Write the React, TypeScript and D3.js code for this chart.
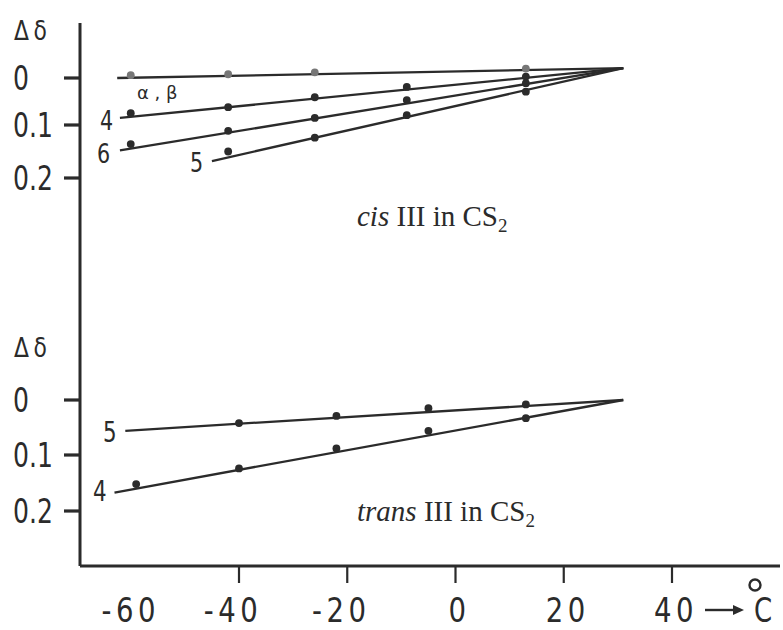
import React from "react";
import * as d3 from "d3";

// temperature axis (°C)
const tempTicks = [-40, -20, 0, 20, 40];
const tempLabels = ["-60", "-40", "-20", "0", "20", "40"];
const tempLabelAt = [-60, -40, -20, 0, 20, 40];

// delta-delta axis
const shiftTicks = [0, 0.1, 0.2];
const shiftLabels = ["0", "0.1", "0.2"];

// cis III in CS2 -- measured points
const cisTemps = [-60, -42, -26, -9, 13];
const cisAB = [-0.006, -0.008, -0.012, null, -0.02];
const cis4 = [0.075, 0.062, 0.041, 0.019, -0.003];
const cis6 = [0.136, 0.111, 0.085, 0.047, 0.011];
const cis5 = [null, 0.15, 0.124, 0.079, 0.029];
// fitted lines: start temp / start value, all meet at one point
const cisFitNames = ["α , β", "4", "6", "5"];
const cisFitFromT = [-62.5, -62, -62, -45];
const cisFitFromV = [0.0, 0.085, 0.148, 0.168];
const cisMeetT = 31;
const cisMeetV = -0.021;

// trans III in CS2
const transTemps = [-59, -40, -22, -5, 13];
const trans5 = [null, 0.042, 0.029, 0.015, 0.008];
const trans4 = [0.152, 0.124, 0.088, 0.056, 0.033];
const transFitNames = ["5", "4"];
const transFitFromT = [-61, -63];
const transFitFromV = [0.056, 0.167];
const transMeetT = 31;
const transMeetV = 0.0;

const ink = "#2b2b2b";
const narrow = "'DejaVu Sans Condensed', 'DejaVu Sans', sans-serif";
const serif = "'Liberation Serif', 'DejaVu Serif', serif";

const x = d3.scaleLinear().domain([-40, 40]).range([239, 672]);
const yTop = d3.scaleLinear().domain([0, 0.1, 0.2]).range([78, 125, 178]);
const yBot = d3.scaleLinear().domain([0, 0.1, 0.2]).range([400, 455, 511]);

const line = d3.line<[number, number]>();

function Dots({ temps, vals, y, fill = ink }) {
  return (
    <g>
      {temps.map((t, i) =>
        vals[i] == null ? null : (
          <circle key={i} cx={x(t)} cy={y(vals[i])} r={3.9} fill={fill} />
        )
      )}
    </g>
  );
}

function Fit({ t0, v0, t1, v1, y }) {
  const d = line([
    [x(t0), y(v0)],
    [x(t1), y(v1)],
  ]);
  return <path d={d || ""} fill="none" stroke={ink} strokeWidth={2.3} />;
}

// narrow digits like the original stencil lettering
function Narrow({ x0, y0, size, children, sx = 0.8, anchor = "start", spacing = 0 }) {
  return (
    <text
      transform={`translate(${x0},${y0}) scale(${sx},1)`}
      fontFamily={narrow}
      fontSize={size}
      textAnchor={anchor}
      letterSpacing={spacing}
      fill={ink}
    >
      {children}
    </text>
  );
}

export default function App() {
  const axisY = 566;
  const panels = [
    { scale: yTop, labelY: 40 },
    { scale: yBot, labelY: 357 },
  ];
  // tick marks for the delta-delta axis
  const tickRects = [];
  panels.forEach((p, k) =>
    shiftTicks.forEach((v) => tickRects.push({ k, v, y: p.scale(v) }))
  );
  return (
    <svg
      width={783}
      height={630}
      style={{ position: "absolute", left: 0, top: 0, background: "#fff" }}
    >
      {/* frame axes */}
      <line x1={80} x2={80} y1={23} y2={axisY} stroke={ink} strokeWidth={3} />
      <line x1={80} x2={780} y1={axisY} y2={axisY} stroke={ink} strokeWidth={3} />

      {/* delta-delta ticks, both panels */}
      {tickRects.map((r) => (
        <rect key={r.k + "-" + r.v} x={64} y={r.y - 1.6} width={16} height={3.2} fill={ink} />
      ))}
      {panels.map((p, k) => (
        <g key={"lab" + k}>
          <Narrow x0={14} y0={p.labelY} size={27} sx={0.9} spacing={5}>
            Δδ
          </Narrow>
          {shiftTicks.map((v, i) => (
            <Narrow key={i} x0={13} y0={p.scale(v) + 12} size={34} sx={0.82}>
              {shiftLabels[i]}
            </Narrow>
          ))}
        </g>
      ))}

      {/* temperature ticks */}
      {tempTicks.map((t) => (
        <line key={t} x1={x(t)} x2={x(t)} y1={axisY} y2={583} stroke={ink} strokeWidth={2.2} />
      ))}
      {tempLabels.map((s, i) => (
        <Narrow
          key={s}
          x0={x(tempLabelAt[i]) + (tempLabelAt[i] < 0 ? (tempLabelAt[i] === -60 ? 0 : -6) : 4)}
          y0={622}
          size={34}
          sx={0.9}
          anchor="middle"
          spacing={5}
        >
          {s}
        </Narrow>
      ))}
      {/* arrow and unit */}
      <line x1={705} x2={736} y1={610} y2={610} stroke={ink} strokeWidth={2.4} />
      <path d="M744,610 L733,605 L733,615 Z" fill={ink} />
      <circle cx={755} cy={585} r={5.5} fill="none" stroke={ink} strokeWidth={2.4} />
      <Narrow x0={754} y0={622} size={34} sx={0.85}>
        C
      </Narrow>

      {/* cis panel */}
      {cisFitFromT.map((t, i) => (
        <Fit key={i} t0={t} v0={cisFitFromV[i]} t1={cisMeetT} v1={cisMeetV} y={yTop} />
      ))}
      <Dots temps={cisTemps} vals={cisAB} y={yTop} fill="#777" />
      <Dots temps={cisTemps} vals={cis4} y={yTop} />
      <Dots temps={cisTemps} vals={cis6} y={yTop} />
      <Dots temps={cisTemps} vals={cis5} y={yTop} />
      <text x={137} y={99} fontFamily="'DejaVu Sans', sans-serif" fontSize={18} fill={ink}>
        {cisFitNames[0]}
      </text>
      <Narrow x0={100} y0={130} size={27} sx={0.85}>
        {cisFitNames[1]}
      </Narrow>
      <Narrow x0={97} y0={163} size={27} sx={0.85}>
        {cisFitNames[2]}
      </Narrow>
      <Narrow x0={190} y0={172} size={27} sx={0.85}>
        {cisFitNames[3]}
      </Narrow>
      <text x={357} y={226} fontFamily={serif} fontSize={29} fill={ink}>
        <tspan fontStyle="italic">cis</tspan> III in CS
        <tspan dy={6} fontSize={19}>2</tspan>
      </text>

      {/* trans panel */}
      {transFitFromT.map((t, i) => (
        <Fit key={i} t0={t} v0={transFitFromV[i]} t1={transMeetT} v1={transMeetV} y={yBot} />
      ))}
      <Dots temps={transTemps} vals={trans5} y={yBot} />
      <Dots temps={transTemps} vals={trans4} y={yBot} />
      <Narrow x0={103} y0={442} size={28} sx={0.85}>
        {transFitNames[0]}
      </Narrow>
      <Narrow x0={93} y0={501} size={28} sx={0.85}>
        {transFitNames[1]}
      </Narrow>
      <text x={357} y={521} fontFamily={serif} fontSize={29} fill={ink}>
        <tspan fontStyle="italic">trans</tspan> III in CS
        <tspan dy={6} fontSize={19}>2</tspan>
      </text>
    </svg>
  );
}
